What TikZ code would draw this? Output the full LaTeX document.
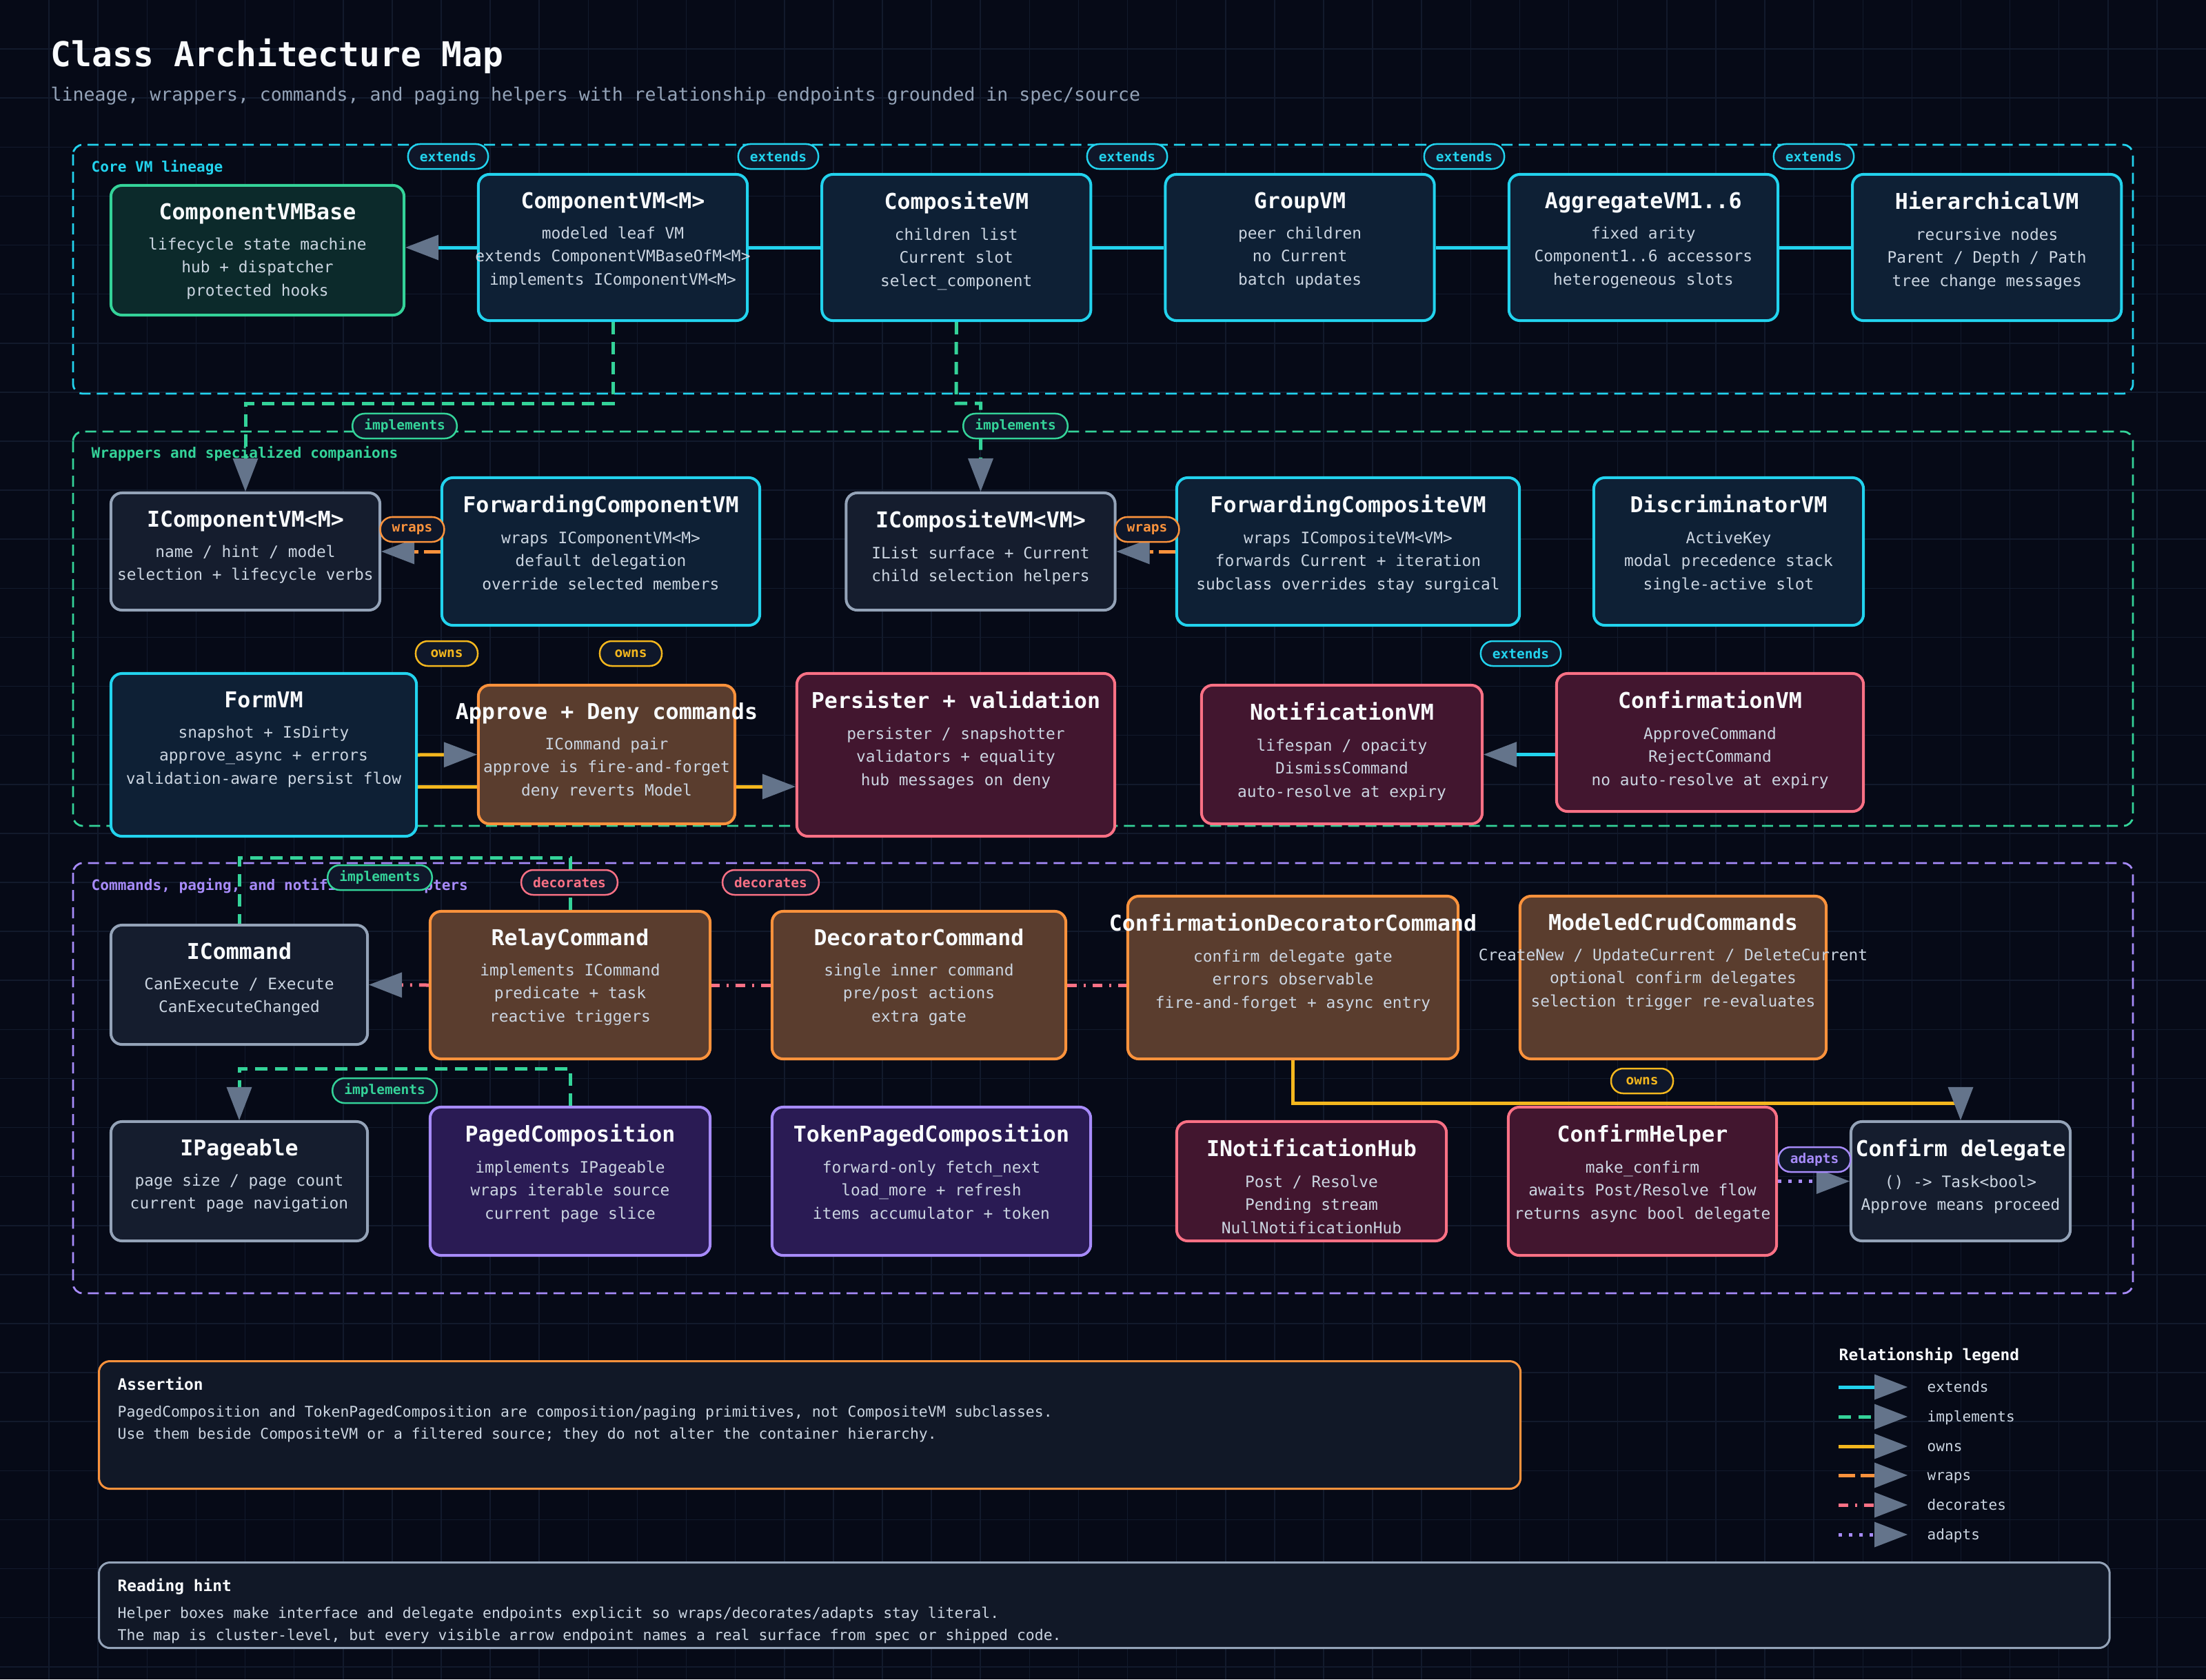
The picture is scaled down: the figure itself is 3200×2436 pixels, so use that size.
\documentclass[tikz,border=0pt]{standalone}
\usepackage{fontspec}
\setmainfont{DejaVu Sans Mono}
\usetikzlibrary{arrows.meta,positioning}

\definecolor{bgc}{HTML}{060A17}
\definecolor{gridc}{HTML}{121A2C}
\definecolor{cyanc}{HTML}{22D3EE}
\definecolor{cyanfill}{HTML}{0E2035}
\definecolor{greenc}{HTML}{34D399}
\definecolor{greenfill}{HTML}{0C2A2B}
\definecolor{grayc}{HTML}{94A3B8}
\definecolor{grayfill}{HTML}{151D2E}
\definecolor{orangec}{HTML}{FB923C}
\definecolor{orangefill}{HTML}{5A3D2E}
\definecolor{pinkc}{HTML}{FB7185}
\definecolor{pinkfill}{HTML}{42162F}
\definecolor{purplec}{HTML}{A78BFA}
\definecolor{purplefill}{HTML}{2A1B54}
\definecolor{goldc}{HTML}{F4B71E}
\definecolor{arrowc}{HTML}{64748B}
\definecolor{pillfill}{HTML}{0F172A}
\definecolor{notefill}{HTML}{111827}
\definecolor{titletxt}{HTML}{F8FAFC}
\definecolor{bodytxt}{HTML}{CBD5E1}
\definecolor{subtxt}{HTML}{94A3B8}

\newcommand{\vmtitlefont}{\fontsize{9}{11}\selectfont\bfseries}
\newcommand{\vmbodyfont}{\fontsize{6.5}{9.5}\selectfont}
\newcommand{\vmpillfont}{\fontsize{5.55}{6}\selectfont\bfseries}
\newcommand{\vmtitle}[1]{{\vmtitlefont\color{titletxt}\vphantom{Ml}#1}}
\newcommand{\vmnotetitle}[1]{{\fontsize{6.5}{8}\selectfont\bfseries\color{titletxt}\vphantom{Ml}#1}}

\pgfdeclarelayer{grid}
\pgfdeclarelayer{edges}
\pgfsetlayers{grid,edges,main}

\tikzset{
  vmbox/.style={draw, rounded corners=0.16cm, line width=0.04cm, inner sep=0pt},
  cyanbox/.style={vmbox, draw=cyanc, fill=cyanfill},
  greenbox/.style={vmbox, draw=greenc, fill=greenfill},
  graybox/.style={vmbox, draw=grayc, fill=grayfill},
  orangebox/.style={vmbox, draw=orangec, fill=orangefill},
  pinkbox/.style={vmbox, draw=pinkc, fill=pinkfill},
  purplebox/.style={vmbox, draw=purplec, fill=purplefill},
  boxtext/.style={anchor=north, inner sep=0pt, yshift=-0.265cm, align=center,
    text=bodytxt, font=\vmbodyfont},
  vmtext/.style={label={[boxtext]north:{#1}}},
  notebox/.style={vmbox, fill=notefill, line width=0.03cm, anchor=north west},
  notelbl/.style={anchor=north west, inner sep=0pt, xshift=0.28cm, yshift=-0.245cm,
    align=left, text=bodytxt, font=\fontsize{6.1}{9.1}\selectfont},
  notetext/.style={label={[notelbl]north west:{#1}}},
  pill/.style={draw=#1, text=#1, fill=pillfill, rounded corners=0.175cm,
    line width=0.025cm, minimum height=0.36cm, minimum width=0.9cm,
    inner xsep=0.17cm, inner ysep=0pt, font=\vmpillfont},
  secframe/.style={draw=#1, dash pattern=on 0.16cm off 0.09cm, line width=0.028cm,
    rounded corners=0.14cm},
  plaintext/.style={anchor=base west, inner sep=0pt},
  seclabel/.style={plaintext, text=#1, font=\fontsize{6}{7}\selectfont\bfseries},
  gridline/.style={draw=gridc, line width=0.015cm},
  relbase/.style={line width=0.05cm},
  relext/.style={relbase, draw=cyanc},
  relimpl/.style={relbase, draw=greenc, dash pattern=on 0.18cm off 0.11cm},
  relowns/.style={relbase, draw=goldc},
  relwraps/.style={relbase, draw=orangec, dash pattern=on 0.24cm off 0.08cm},
  reldeco/.style={relbase, draw=pinkc, dash pattern=on 0.14cm off 0.1cm on 0.03cm off 0.1cm},
  reladapt/.style={relbase, draw=purplec, dash pattern=on 0.05cm off 0.1cm},
  legtext/.style={plaintext, text=bodytxt, font=\fontsize{6}{7}\selectfont}
}

\begin{document}
\begin{tikzpicture}[x=0.01cm, y=-0.01cm,
  >={Triangle[length=0.48cm, width=0.37cm, color=arrowc, line width=0pt]}]

\useasboundingbox (0,0) rectangle (3200,2436);

% backdrop, grid and cluster frames
\begin{pgfonlayer}{grid}
\fill[bgc] (0,0) rectangle (3200,2436);
\foreach \i in {1,...,44} {\draw[gridline] (\i*71.111,0) -- (\i*71.111,2436);}
\foreach \j in {1,...,34} {\draw[gridline] (0,\j*71.111) -- (3200,\j*71.111);}
\draw[secframe=cyanc] (106,210) rectangle (3094,571);
\draw[secframe=greenc] (106,626) rectangle (3094,1198);
\draw[secframe=purplec] (106,1252) rectangle (3094,1876);
\end{pgfonlayer}

\node[plaintext, font=\fontsize{14.1}{17}\selectfont\bfseries, text=titletxt] (maptitle) at (73,96) {Class Architecture Map};
\node[plaintext, font=\fontsize{7.54}{9}\selectfont, text=subtxt] (mapsub) at (73,146) {lineage, wrappers, commands, and paging helpers with relationship endpoints grounded in spec/source};

\node[seclabel=cyanc] (lblcore) at (132,249) {Core VM lineage};
\node[seclabel=greenc] (lblwrap) at (132,664) {Wrappers and specialized companions};
\node[seclabel=purplec] (lblcmd) at (132,1291) {Commands, paging, and notification adapters};

% core VM lineage
\node[greenbox, minimum width=4.25cm, minimum height=1.88cm,
  vmtext={\vmtitle{ComponentVMBase}\\[3.1pt] lifecycle state machine\\ hub + dispatcher\\ protected hooks}] (vmbase) at (373.5,363) {};
\node[cyanbox, minimum width=3.9cm, minimum height=2.12cm,
  vmtext={\vmtitle{ComponentVM<M>}\\[3.1pt] modeled leaf VM\\ extends ComponentVMBaseOfM<M>\\ implements IComponentVM<M>}] (cvm) at (889,359) {};
\node[cyanbox, minimum width=3.9cm, minimum height=2.12cm, right=1.04cm of cvm,
  vmtext={\vmtitle{CompositeVM}\\[3.1pt] children list\\ Current slot\\ select\_component}] (comp) {};
\node[cyanbox, minimum width=3.9cm, minimum height=2.12cm, right=1.04cm of comp,
  vmtext={\vmtitle{GroupVM}\\[3.1pt] peer children\\ no Current\\ batch updates}] (group) {};
\node[cyanbox, minimum width=3.9cm, minimum height=2.12cm, right=1.04cm of group,
  vmtext={\vmtitle{AggregateVM1..6}\\[3.1pt] fixed arity\\ Component1..6 accessors\\ heterogeneous slots}] (agg) {};
\node[cyanbox, minimum width=3.9cm, minimum height=2.12cm, right=1.04cm of agg,
  vmtext={\vmtitle{HierarchicalVM}\\[3.1pt] recursive nodes\\ Parent / Depth / Path\\ tree change messages}] (hier) {};

% wrappers and companions
\node[graybox, minimum width=3.9cm, minimum height=1.7cm,
  vmtext={\vmtitle{IComponentVM<M>}\\[3.1pt] name / hint / model\\ selection + lifecycle verbs}] (icomp) at (356,800) {};
\node[cyanbox, minimum width=4.61cm, minimum height=2.14cm,
  vmtext={\vmtitle{ForwardingComponentVM}\\[3.1pt] wraps IComponentVM<M>\\ default delegation\\ override selected members}] (fwdcomp) at (871.5,800) {};
\node[graybox, minimum width=3.9cm, minimum height=1.7cm,
  vmtext={\vmtitle{ICompositeVM<VM>}\\[3.1pt] IList surface + Current\\ child selection helpers}] (icompos) at (1422.5,800) {};
\node[cyanbox, minimum width=4.97cm, minimum height=2.14cm,
  vmtext={\vmtitle{ForwardingCompositeVM}\\[3.1pt] wraps ICompositeVM<VM>\\ forwards Current + iteration\\ subclass overrides stay surgical}] (fwdcompos) at (1955.5,800) {};
\node[cyanbox, minimum width=3.91cm, minimum height=2.14cm,
  vmtext={\vmtitle{DiscriminatorVM}\\[3.1pt] ActiveKey\\ modal precedence stack\\ single-active slot}] (discr) at (2507.5,800) {};

\node[cyanbox, minimum width=4.43cm, minimum height=2.36cm,
  vmtext={\vmtitle{FormVM}\\[3.1pt] snapshot + IsDirty\\ approve\_async + errors\\ validation-aware persist flow}] (form) at (382.5,1095) {};
\node[orangebox, minimum width=3.72cm, minimum height=2.01cm,
  vmtext={\vmtitle{Approve + Deny commands}\\[3.1pt] ICommand pair\\ approve is fire-and-forget\\ deny reverts Model}] (approve) at (880,1094.5) {};
\node[pinkbox, minimum width=4.61cm, minimum height=2.36cm,
  vmtext={\vmtitle{Persister + validation}\\[3.1pt] persister / snapshotter\\ validators + equality\\ hub messages on deny}] (persist) at (1386.5,1095) {};
\node[pinkbox, minimum width=4.07cm, minimum height=2.01cm,
  vmtext={\vmtitle{NotificationVM}\\[3.1pt] lifespan / opacity\\ DismissCommand\\ auto-resolve at expiry}] (notif) at (1946.5,1094.5) {};
\node[pinkbox, minimum width=4.45cm, minimum height=2.0cm,
  vmtext={\vmtitle{ConfirmationVM}\\[3.1pt] ApproveCommand\\ RejectCommand\\ no auto-resolve at expiry}] (confvm) at (2480.5,1077) {};

% commands, paging, notification adapters
\node[graybox, minimum width=3.72cm, minimum height=1.73cm,
  vmtext={\vmtitle{ICommand}\\[3.1pt] CanExecute / Execute\\ CanExecuteChanged}] (icmd) at (347,1428.5) {};
\node[orangebox, minimum width=4.06cm, minimum height=2.14cm,
  vmtext={\vmtitle{RelayCommand}\\[3.1pt] implements ICommand\\ predicate + task\\ reactive triggers}] (relay) at (827,1429) {};
\node[orangebox, minimum width=4.26cm, minimum height=2.14cm,
  vmtext={\vmtitle{DecoratorCommand}\\[3.1pt] single inner command\\ pre/post actions\\ extra gate}] (decor) at (1333,1429) {};
\node[orangebox, minimum width=4.79cm, minimum height=2.36cm,
  vmtext={\vmtitle{ConfirmationDecoratorCommand}\\[3.1pt] confirm delegate gate\\ errors observable\\ fire-and-forget + async entry}] (confdec) at (1875.5,1418) {};
\node[orangebox, minimum width=4.44cm, minimum height=2.36cm,
  vmtext={\vmtitle{ModeledCrudCommands}\\[3.1pt] CreateNew / UpdateCurrent / DeleteCurrent\\ optional confirm delegates\\ selection trigger re-evaluates}] (crud) at (2427,1418) {};

\node[graybox, minimum width=3.72cm, minimum height=1.73cm,
  vmtext={\vmtitle{IPageable}\\[3.1pt] page size / page count\\ current page navigation}] (ipage) at (347,1713.5) {};
\node[purplebox, minimum width=4.06cm, minimum height=2.15cm,
  vmtext={\vmtitle{PagedComposition}\\[3.1pt] implements IPageable\\ wraps iterable source\\ current page slice}] (paged) at (827,1713.5) {};
\node[purplebox, minimum width=4.62cm, minimum height=2.15cm,
  vmtext={\vmtitle{TokenPagedComposition}\\[3.1pt] forward-only fetch\_next\\ load\_more + refresh\\ items accumulator + token}] (token) at (1351,1713.5) {};
\node[pinkbox, minimum width=3.91cm, minimum height=1.73cm,
  vmtext={\vmtitle{INotificationHub}\\[3.1pt] Post / Resolve\\ Pending stream\\ NullNotificationHub}] (nhub) at (1902.5,1713.5) {};
\node[pinkbox, minimum width=3.89cm, minimum height=2.15cm,
  vmtext={\vmtitle{ConfirmHelper}\\[3.1pt] make\_confirm\\ awaits Post/Resolve flow\\ returns async bool delegate}] (chelper) at (2382.5,1713.5) {};
\node[graybox, minimum width=3.18cm, minimum height=1.73cm,
  vmtext={\vmtitle{Confirm delegate}\\[3.1pt] () -> Task<bool>\\ Approve means proceed}] (cdel) at (2844,1713.5) {};

% bend points
\coordinate (jA) at (889,585);
\coordinate (jB) at (1387,585);
\coordinate (jC) at (347,1244);
\coordinate (jD) at (347,1550);
\coordinate (jE) at (2844,1600);

% relationships
\begin{pgfonlayer}{edges}
\draw[relext,->] (cvm.west) -- (cvm.west -| vmbase.east);
\draw[relext] (comp.west) -- (cvm.east);
\draw[relext] (group.west) -- (comp.east);
\draw[relext] (agg.west) -- (group.east);
\draw[relext] (hier.west) -- (agg.east);
\draw[relimpl,->] (cvm.south) -- (jA) -| (icomp.north);
\draw[relimpl,->] (comp.south) -- (jB) -| (icompos.north);
\draw[relwraps,->] (fwdcomp.west) -- (icomp.east);
\draw[relwraps,->] (fwdcompos.west) -- (icompos.east);
\draw[relowns,->] (form.east) -- (approve.west);
\draw[relowns,->] ([yshift=-0.46cm]form.east) -- ([yshift=-0.46cm]persist.west);
\draw[relext,->] (notif.east -| confvm.west) -- (notif.east);
\draw[relimpl] (relay.north) |- (jC) -- (icmd.north);
\draw[relimpl,->] (paged.north) |- (jD) -- (ipage.north);
\draw[reldeco,->] (relay.west) -- (icmd.east);
\draw[reldeco] (decor.west) -- (relay.east);
\draw[reldeco] (decor.east) -- (decor.east -| confdec.west);
\draw[relowns,->] (confdec.south) |- (jE) -- (cdel.north);
\draw[reladapt,->] (chelper.east) -- (cdel.west);
\end{pgfonlayer}

% relationship tags
\node[pill=cyanc] (pext1) at (650,227) {extends};
\node[pill=cyanc] (pext2) at (1129,227) {extends};
\node[pill=cyanc] (pext3) at (1635,227) {extends};
\node[pill=cyanc] (pext4) at (2124,227) {extends};
\node[pill=cyanc] (pext5) at (2631,227) {extends};
\node[pill=greenc] (pimpl1) at (587,618) {implements};
\node[pill=greenc] (pimpl2) at (1473,618) {implements};
\node[pill=orangec] (pwrap1) at (598,768) {wraps};
\node[pill=orangec] (pwrap2) at (1664,768) {wraps};
\node[pill=goldc] (pown1) at (648,948) {owns};
\node[pill=goldc] (pown2) at (915,948) {owns};
\node[pill=cyanc] (pext6) at (2206,948) {extends};
\node[pill=greenc] (pimpl3) at (551,1273) {implements};
\node[pill=pinkc] (pdeco1) at (826,1280) {decorates};
\node[pill=pinkc] (pdeco2) at (1118,1280) {decorates};
\node[pill=greenc] (pimpl4) at (558,1582) {implements};
\node[pill=goldc] (pown3) at (2382,1568) {owns};
\node[pill=purplec] (padapt) at (2632,1682) {adapts};

% notes
\node[notebox, draw=orangec, minimum width=20.61cm, minimum height=1.85cm,
  notetext={\vmnotetitle{Assertion}\\[1.9pt] PagedComposition and TokenPagedComposition are composition/paging primitives, not CompositeVM subclasses.\\ Use them beside CompositeVM or a filtered source; they do not alter the container hierarchy.}] (assertion) at (142,1973) {};
\node[notebox, draw=grayc, minimum width=29.15cm, minimum height=1.24cm,
  notetext={\vmnotetitle{Reading hint}\\[1.9pt] Helper boxes make interface and delegate endpoints explicit so wraps/decorates/adapts stay literal.\\ The map is cluster-level, but every visible arrow endpoint names a real surface from spec or shipped code.}] (hint) at (142,2265) {};

% legend
\node[plaintext, font=\fontsize{6.5}{8}\selectfont\bfseries, text=titletxt] (legtitle) at (2667,1973) {Relationship legend};
\foreach \y/\sty/\rl in {2012/relext/extends, 2055/relimpl/implements, 2098/relowns/owns,
    2140/relwraps/wraps, 2183/reldeco/decorates, 2226/reladapt/adapts} {
  \draw[\sty,->] (2667,\y) -- (2767,\y);
  \node[legtext] (leg-\rl) at (2795,\y+7) {\rl};
}

\end{tikzpicture}
\end{document}
